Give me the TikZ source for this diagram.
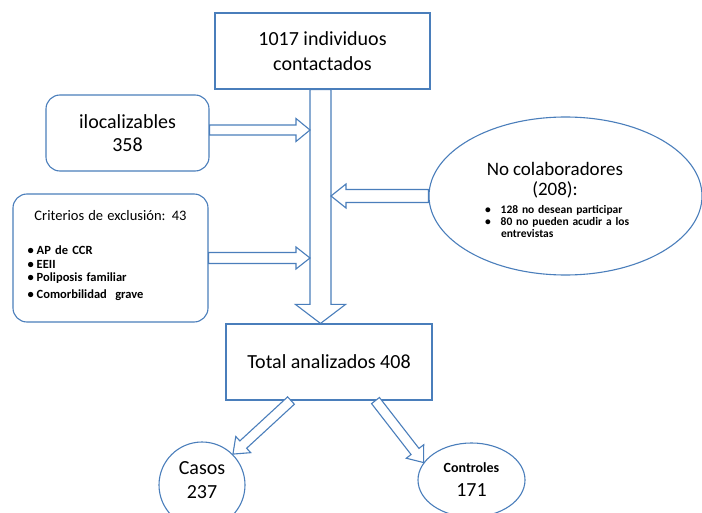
\documentclass[tikz,border=0pt]{standalone}
\usepackage{fontspec}
\setmainfont{Carlito}
\usetikzlibrary{calc,shapes.geometric}

\definecolor{boxblue}{HTML}{4A7EBB}

\tikzset{
  squarebox/.style={draw=boxblue, line width=1.1pt, fill=white, align=center, inner sep=0pt},
  roundbox/.style={squarebox, rounded corners=14pt},
  ovalbox/.style={draw=boxblue, line width=1.1pt, fill=white, ellipse, align=center, inner sep=0pt},
  flowarrow/.style={draw=boxblue, line width=1.1pt, fill=white, line join=miter},
  bigtext/.style={font=\fontsize{20}{24}\selectfont},
}

% block arrow: from, to, shaft half width, head half width, head length
\newcommand{\blockarrow}[5]{%
  \draw[flowarrow] let \p1=#1, \p2=#2,
      \n1={atan2(\y2-\y1,\x2-\x1)}, \n2={veclen(\x2-\x1,\y2-\y1)} in
    [shift={(\p1)}, rotate=\n1]
    (0pt,-#3pt) -- (\n2-#5pt,-#3pt) -- (\n2-#5pt,-#4pt) -- (\n2,0pt)
    -- (\n2-#5pt,#4pt) -- (\n2-#5pt,#3pt) -- (0pt,#3pt) -- cycle;}

\begin{document}
\begin{tikzpicture}[x=1pt, y=1pt]
% Fix the page size
\useasboundingbox[fill=white] (0,0) rectangle (702,-513);

% Define the trunk of the flow
\coordinate (trunk) at (320.5,-200);
\coordinate (trunkL) at (310,-200);
\coordinate (trunkR) at (331,-200);

% Draw the boxes
\node[squarebox, font=\fontsize{20}{25}\selectfont, minimum width=215pt, minimum height=76pt]
  (top) at (322.5,-51) {1017 individuos\\contactados};
\node[roundbox, font=\fontsize{20}{23}\selectfont, minimum width=163pt, minimum height=76pt]
  (iloc) at (127.5,-133) {ilocalizables\\358};
\node[roundbox, font=\fontsize{12.5}{13.5}\selectfont\bfseries, minimum width=195pt, minimum height=128pt,
  text width=180pt, align=left] (excl) at (110.5,-258) {%
  {\mdseries\fontsize{14.5}{13}\selectfont\makebox[180pt][c]{Criterios de exclusión: 43}}\\[21pt]
  \hspace*{7pt}\textbullet\hspace{3pt}AP de CCR\\
  \hspace*{7pt}\textbullet\hspace{3pt}EEII\\
  \hspace*{7pt}\textbullet\hspace{3pt}Poliposis familiar\\[3pt]
  \hspace*{7pt}\textbullet\hspace{3pt}Comorbilidad\ \ grave\\[-6pt]\mbox{}};
\node[ovalbox, minimum width=273pt, minimum height=158pt] (nocol) at (565.5,-196) {};
\node[font=\fontsize{11.5}{12}\selectfont\bfseries, text width=180pt, align=left, inner sep=0pt]
  (nocoltxt) at (560,-200) {%
  {\mdseries\fontsize{19}{12}\selectfont\makebox[170pt][c]{No colaboradores}}\\[5pt]
  {\mdseries\fontsize{19}{12}\selectfont\makebox[170pt][c]{(208):}}\\[6pt]
  \hspace*{15pt}\textbullet\hspace{10pt}128 no desean participar\\
  \hspace*{15pt}\textbullet\hspace{10pt}80 no pueden acudir a los\\
  \hspace*{31pt}entrevistas};
\node[squarebox, bigtext, minimum width=206pt, minimum height=76pt]
  (total) at (329,-362) {Total analizados 408};
\node[ovalbox, circle, bigtext, minimum size=86pt] (casos) at (202,-485) {Casos\\237\\[-14pt]\mbox{}};
\node[ovalbox, bigtext, minimum width=107pt, minimum height=74pt]
  (controles) at (471.5,-480) {{\bfseries\fontsize{14}{16}\selectfont Controles}\\171};

% Draw the arrows
\blockarrow{(top.south -| trunk)}{(total.north -| trunk)}{10.5}{25}{19}
\blockarrow{([yshift=3pt]iloc.east)}{([yshift=3pt]iloc.east -| trunkL)}{5}{11.5}{14}
\blockarrow{(excl.east)}{(excl.east -| trunkL)}{5.5}{11}{14}
\blockarrow{(nocol.west)}{(nocol.west -| trunkR)}{6.5}{12}{15}
\blockarrow{([xshift=-38pt]total.south)}{(casos.45)}{5}{11}{14}
\blockarrow{([xshift=46.5pt]total.south)}{(controles.160)}{5}{11}{14}
\end{tikzpicture}
\end{document}
